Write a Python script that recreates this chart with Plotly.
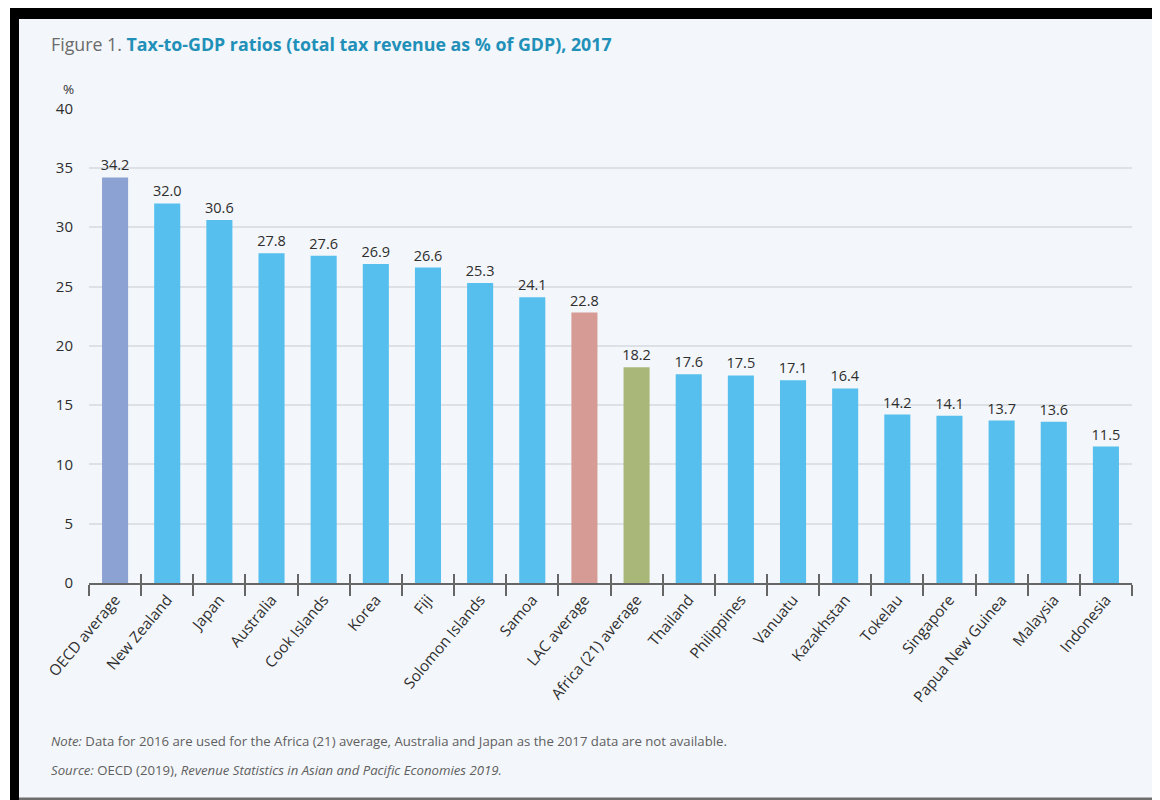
import plotly.graph_objects as go

categories = ["OECD average", "New Zealand", "Japan", "Australia", "Cook Islands", "Korea",
              "Fiji", "Solomon Islands", "Samoa", "LAC average", "Africa (21) average",
              "Thailand", "Philippines", "Vanuatu", "Kazakhstan", "Tokelau", "Singapore",
              "Papua New Guinea", "Malaysia", "Indonesia"]
values = [34.2, 32.0, 30.6, 27.8, 27.6, 26.9, 26.6, 25.3, 24.1, 22.8, 18.2,
          17.6, 17.5, 17.1, 16.4, 14.2, 14.1, 13.7, 13.6, 11.5]
y_ticks = [0, 5, 10, 15, 20, 25, 30, 35, 40]

BLUE = "#56bfee"
special = {"OECD average": "#8ca2d3", "LAC average": "#d79b95", "Africa (21) average": "#a9b879"}
colors = [special.get(c, BLUE) for c in categories]

OFF = 8  # page body margin
W, H = 1160 - OFF, 800 - OFF
L, R, T, B = 89 - OFF, 1132 - OFF, 108 - OFF, 583 - OFF
FONT = "Open Sans"

def px(x):
    return (x - OFF - L) / (R - L)

def py(y):
    return (B - (y - OFF)) / (B - T)

fig = go.Figure()
fig.add_trace(go.Bar(
    x=categories, y=values, marker=dict(color=colors, line=dict(width=0)),
    texttemplate="%{y:.1f}", textposition="outside", cliponaxis=False, constraintext="none",
    textfont=dict(family=FONT, size=14.5, color="#2e2e2e"),
    hoverinfo="x+y", showlegend=False,
))
# overlay axis used only for ticks that cross the axis line
fig.add_trace(go.Scatter(
    x=categories, y=values, xaxis="x2", mode="markers",
    marker=dict(opacity=0), hoverinfo="skip", showlegend=False,
))

shapes = [
    dict(type="rect", xref="paper", yref="paper", x0=px(10), x1=px(1161), y0=py(8), y1=py(801),
         fillcolor="#000000", line=dict(width=0), layer="below"),
    dict(type="rect", xref="paper", yref="paper", x0=px(19), x1=px(1161), y0=py(19), y1=py(801),
         fillcolor="#6e6e6e", line=dict(width=0), layer="below"),
    dict(type="rect", xref="paper", yref="paper", x0=px(19), x1=px(1157.5), y0=py(19), y1=py(797.5),
         fillcolor="#f3f6fa", line=dict(width=0), layer="below"),
]

annotations = [
    dict(xref="paper", yref="paper", x=px(49), y=py(44), xanchor="left", yanchor="middle",
         showarrow=False, align="left",
         text="<span style='color:#6b6b6b'>Figure 1. </span><b>Tax-to-GDP ratios (total tax revenue as % of GDP), 2017</b>",
         font=dict(family=FONT, size=17.8, color="#2190b9")),
    dict(xref="paper", yref="paper", x=px(76), y=py(89), xanchor="right", yanchor="middle",
         showarrow=False, text="%", font=dict(family=FONT, size=13.5, color="#333333")),
    dict(xref="paper", yref="paper", x=px(49), y=py(741), xanchor="left", yanchor="middle",
         showarrow=False, align="left",
         text="<i>Note:</i> Data for 2016 are used for the Africa (21) average, Australia and Japan as the 2017 data are not available.",
         font=dict(family=FONT, size=13.2, color="#5f5f5f")),
    dict(xref="paper", yref="paper", x=px(49), y=py(770), xanchor="left", yanchor="middle",
         showarrow=False, align="left",
         text="<i>Source:</i> OECD (2019), <i>Revenue Statistics in Asian and Pacific Economies 2019.</i>",
         font=dict(family=FONT, size=13.2, color="#5f5f5f")),
]

fig.update_layout(
    width=W, height=H,
    margin=dict(l=L, r=W - R, t=T, b=H - B, pad=0),
    paper_bgcolor="#ffffff", plot_bgcolor="rgba(0,0,0,0)",
    bargap=0.5,
    shapes=shapes, annotations=annotations,
    xaxis=dict(type="category", range=[-0.5, 19.5], tickangle=-50,
               ticks="outside", tickson="boundaries", ticklen=11, tickwidth=1.5, tickcolor="#666666",
               showline=True, linecolor="#666666", linewidth=1.8, showgrid=False,
               tickfont=dict(family=FONT, size=15.2, color="#2e2e2e")),
    xaxis2=dict(type="category", overlaying="x", matches="x", anchor="y", side="bottom",
                ticks="inside", tickson="boundaries", ticklen=9, tickwidth=1.5, tickcolor="#666666",
                showticklabels=False, showgrid=False, showline=False),
    yaxis=dict(range=[0, 40.05], tickvals=y_ticks, showgrid=True, gridcolor="#dde1e6", gridwidth=1.5,
               zeroline=False, showline=False, ticks="", ticklabelstandoff=15,
               tickfont=dict(family=FONT, size=15, color="#2e2e2e")),
    font=dict(family=FONT),
)

fig.write_html("out.html")
